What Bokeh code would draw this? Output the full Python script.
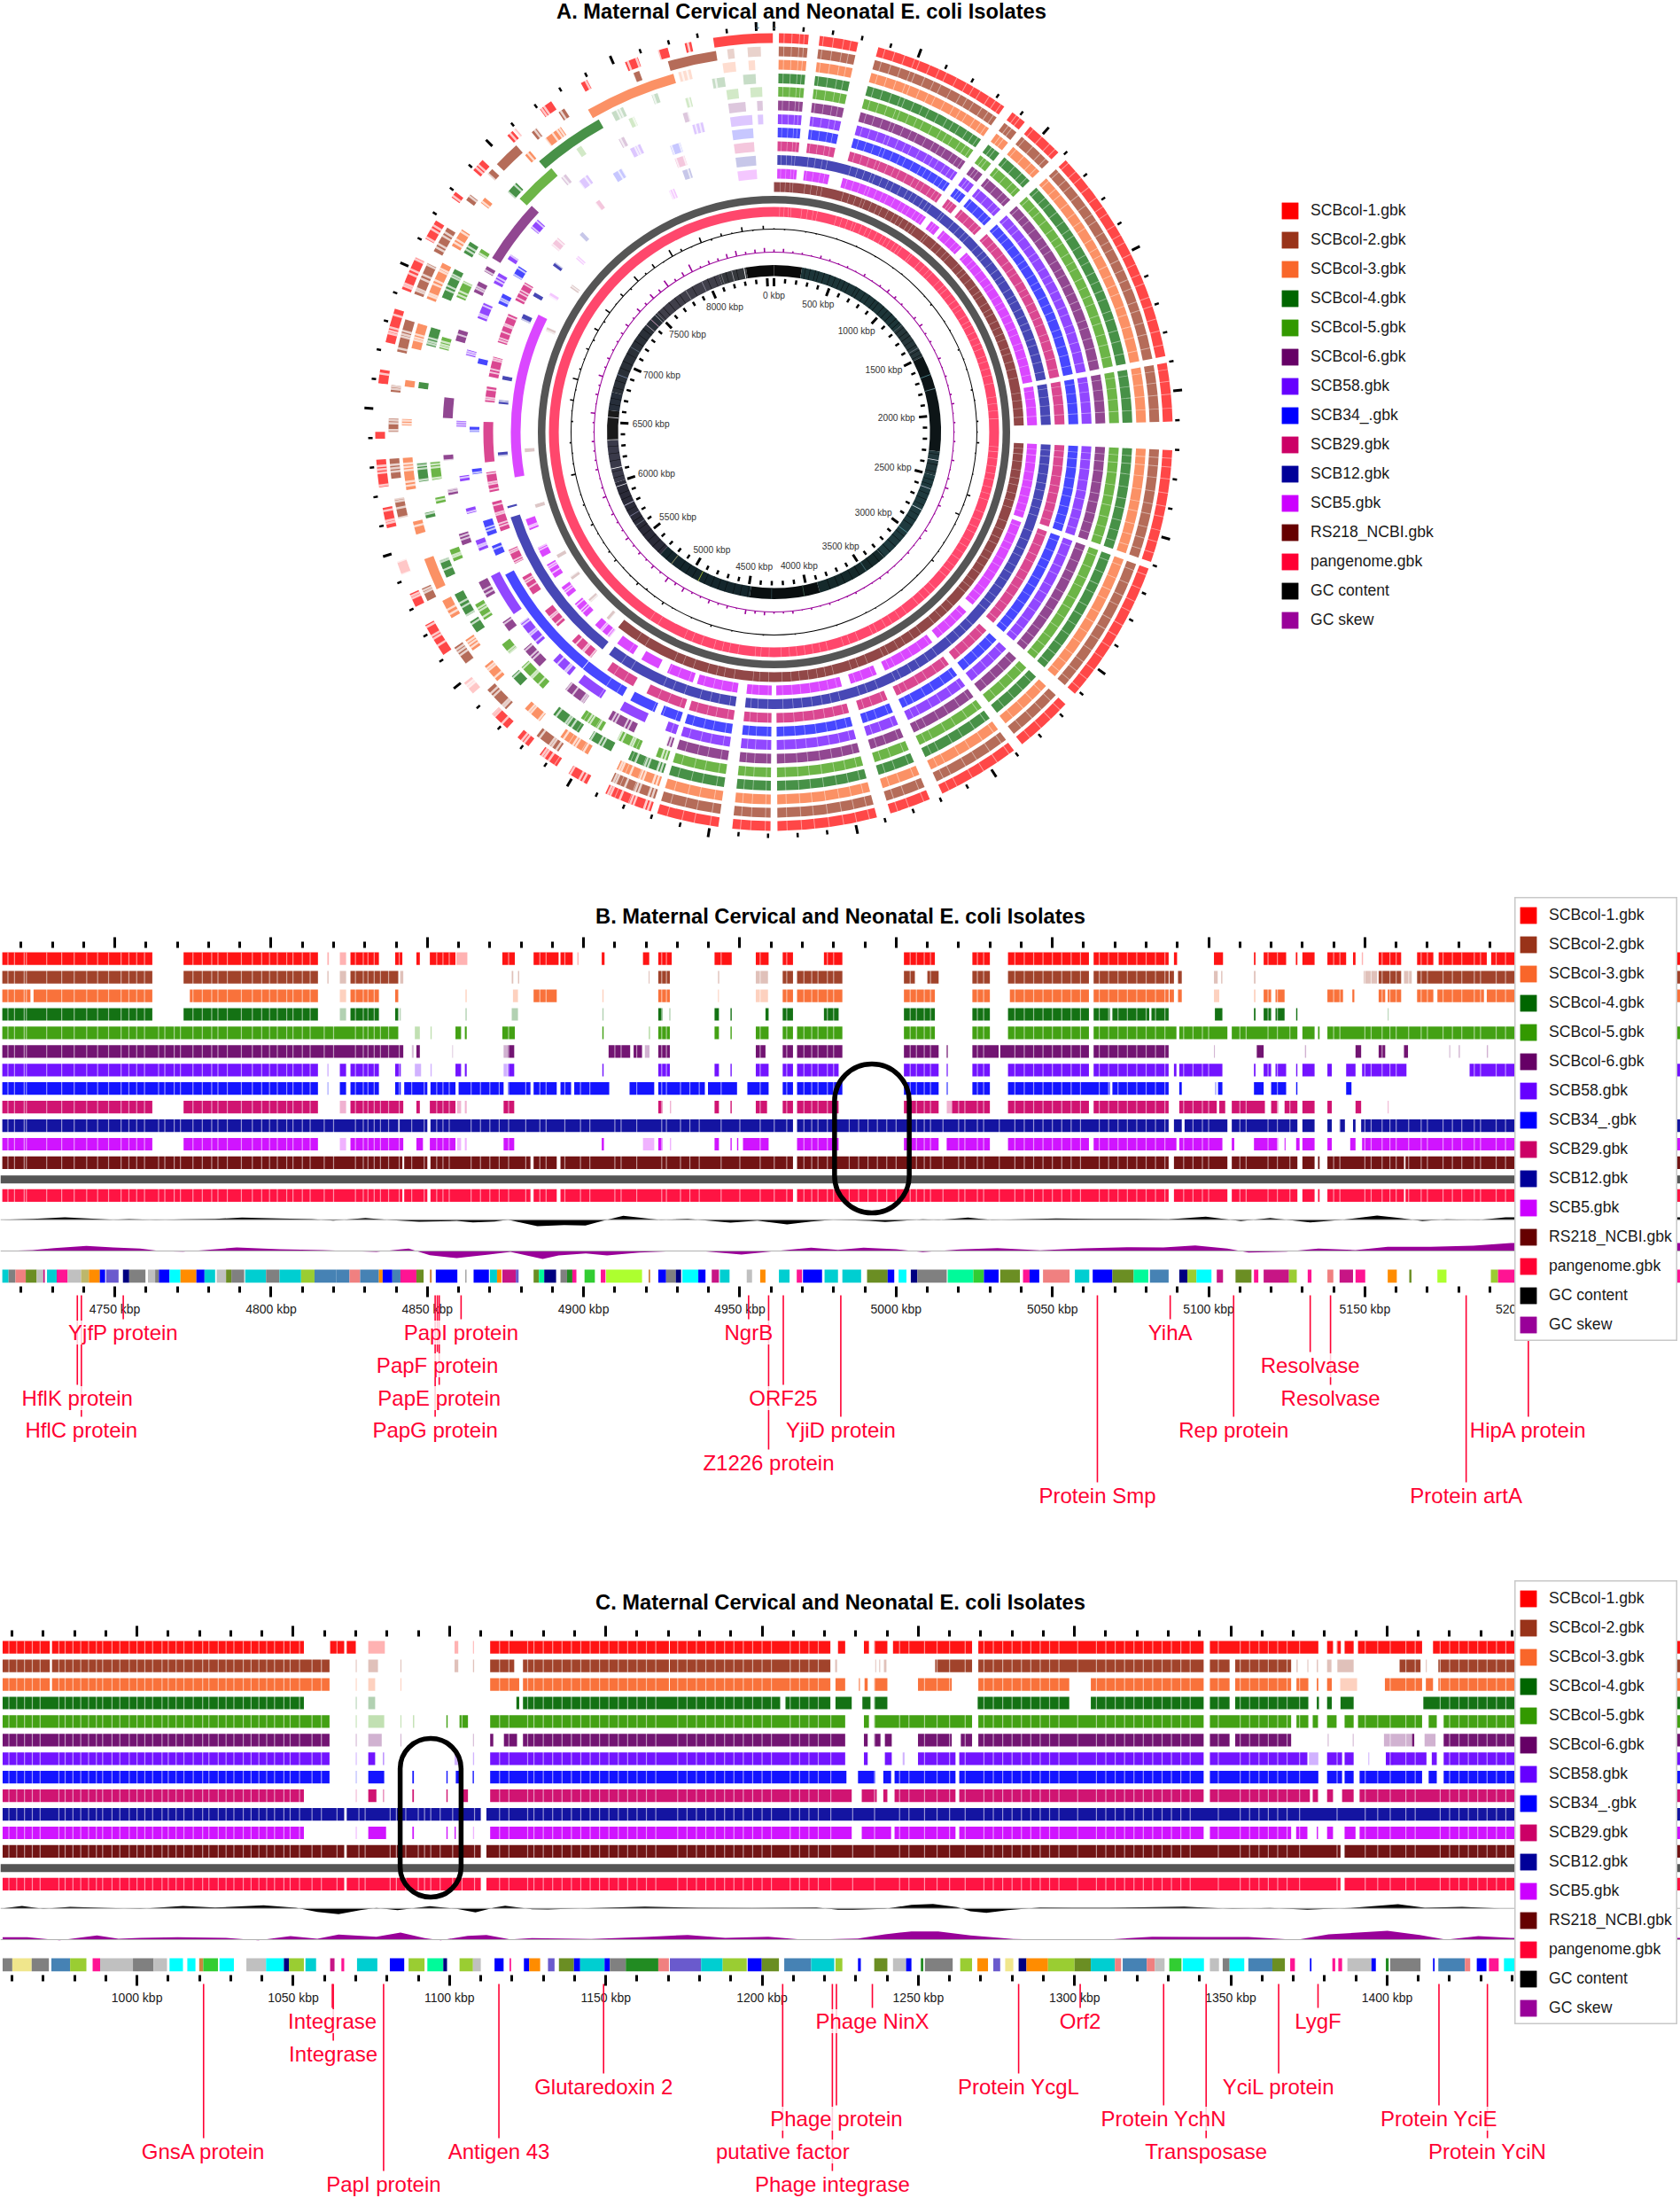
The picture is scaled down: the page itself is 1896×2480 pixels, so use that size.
import numpy as np
from bokeh.embed import file_html
from bokeh.resources import INLINE
from bokeh.layouts import column
from bokeh.plotting import figure
from bokeh.core.properties import value
from bokeh.models import (Range1d, LinearAxis, FixedTicker, PrintfTickFormatter, Legend, LegendItem,
                          Span, Title)

FONT = "Liberation Sans"
TRACK_NAMES = ["SCBcol-1.gbk", "SCBcol-2.gbk", "SCBcol-3.gbk", "SCBcol-4.gbk", "SCBcol-5.gbk", "SCBcol-6.gbk",
               "SCB58.gbk", "SCB34_.gbk", "SCB29.gbk", "SCB12.gbk", "SCB5.gbk", "RS218_NCBI.gbk", "pangenome.gbk",
               "GC content", "GC skew"]
TRACK_COLORS = ["#ff0000", "#993319", "#f9662a", "#006600", "#339900", "#660066", "#6600ff", "#0000ff", "#cc0066",
                "#000099", "#cc00ff", "#660000", "#ff0033", "#000000", "#990099"]
GENE_COLORS = dict(T="#00ced1", G="#808080", L="#c0c0c0", O="#6b8e23", P="#ff1493", R="#ff8c00", B="#0000ff",
                   N="#000080", S="#4682b4", C="#f08080", Y="#9acd32", M="#00fa9a", A="#00ffff", W="#adff2f",
                   F="#228b22", E="#32cd32", V="#c71585", D="#6a5acd", K="#f0e68c", H="#cd853f", Q="#bdb76b")
GENOME_KBP = 8560

# ---------- Panel B: kbp intervals per track ----------
b_tracks = [
 [(4714,4762),(4772,4815),(4825.4,4834.5),(4839.7,4842),(4846.5,4847.6),(4850.8,4859),(4874,4878),(4884,4892),(4892.6,4896.5),(4905.8,4906.7),(4919,4921),(4923.9,4928.2),(4941.9,4947.4),(4955.1,4959.2),(4963.7,4967),(4976.9,4982.8),(5002.5,5012.4),(5024.4,5030),(5035.8,5061.7),(5063.2,5087.2),(5088.9,5089.9),(5101.7,5104.6),(5114.5,5115),(5117.6,5124.8),(5127.9,5128.4),(5130,5133.9),(5138,5144),(5146.2,5147),(5154.4,5161.6),(5166.7,5171.9),(5173.6,5189),(5190.4,5252)],
 [(4714,4762),(4772,4815),(4825.4,4840.7),(4923.9,4927.6),(4963.7,4967),(4968.3,4982.8),(5002.5,5006),(5010,5013.6),(5024.4,5030),(5035.8,5061.7),(5063.2,5087.2),(5087.5,5088.9),(5090.2,5091.4),(5154.4,5161.6),(5166.7,5252)],
 [(4724,4762),(4714,4723),(4774,4815),(4825.4,4834.5),(4839.7,4840.7),(4884,4891.4),(4923.9,4927.6),(4963.7,4967),(4968.3,4982.8),(5002.5,5012.4),(5024.4,5030),(5036.4,5061.7),(5063.2,5087.2),(5087.5,5088.9),(5090.2,5091.4),(5117.6,5120),(5121.4,5124.3),(5138,5143),(5146,5146.6),(5154.4,5156.5),(5157.3,5161.6),(5166.7,5171.9),(5173.2,5188.1),(5189,5252)],
 [(4714,4762),(4772,4815),(4825.4,4834.5),(4839.7,4840.7),(4923.9,4925.2),(4941.9,4943.3),(4947,4947.4),(4958.2,4959.2),(4963.7,4967),(4976.9,4981.6),(5002.5,5012.4),(5024.4,5030),(5035.8,5061.7),(5063.2,5068.4),(5069.2,5081),(5081.7,5087.2),(5102,5104.4),(5114.5,5115),(5117.6,5120),(5121.4,5124.3),(5128,5128.4)],
 [(4714,4840.7),(4859,4860.8),(4862,4862.6),(4874,4878),(4906,4906.4),(4923.9,4927.6),(4941.9,4943.3),(4947,4947.4),(4955.1,4959.2),(4963.7,4967),(4968.3,4982.8),(5002.5,5012.4),(5024.4,5030),(5035.8,5061.7),(5063.2,5089.7),(5090.6,5106),(5107.4,5128.4),(5130,5133.9),(5135,5135.5),(5138,5252)],
 [(4714,4842.3),(4846.5,4847.6),(4875.8,4877.8),(4908,4914.9),(4916,4918.7),(4923.9,4927.6),(4955.1,4958.2),(4963.7,4967),(4968.3,4982.8),(5002.5,5013.6),(5016.2,5016.5),(5024.4,5032.8),(5033.3,5061.7),(5063.2,5087.2),(5115.4,5117.6),(5147,5148.8),(5154.4,5156.5),(5162.5,5163.8)],
 [(4714,4815),(4822,4824),(4825.4,4834.5),(4839.7,4841.5),(4859,4860.8),(4862,4862.6),(4875.8,4877.8),(4906,4906.4),(4923.9,4927.6),(4941.9,4943.3),(4947,4947.4),(4955.1,4959.2),(4963.7,4967),(4968.3,4981.6),(5002.5,5013.6),(5016.2,5016.5),(5024.4,5030),(5035.8,5061.7),(5063.2,5087.2),(5088.9,5089.7),(5090.6,5104.4),(5114.5,5115),(5117.6,5120),(5121.4,5124.8),(5128,5128.4),(5130,5133.9),(5138,5139.4),(5144,5147),(5149.1,5163.3),(5183.5,5252)],
 [(4714,4815),(4822,4824),(4825.4,4834.5),(4839.7,4841.5),(4842.6,4850),(4851,4859),(4860,4874.4),(4875.8,4883),(4884,4891.4),(4892.6,4896),(4897,4908.2),(4914.7,4922.6),(4923.9,4938.8),(4939.8,4949.1),(4952.4,4959.2),(4963.7,4967),(4968.3,4982.8),(5002.5,5013.6),(5016.2,5016.5),(5024.4,5030),(5035.8,5068.4),(5069.2,5087.2),(5090.6,5091.4),(5103,5104.4),(5114.5,5117.6),(5120,5124.8),(5128,5128.4),(5144,5145.7)],
 [(4714,4762),(4772,4815),(4825.4,4842.3),(4846.5,4847.6),(4850.8,4859),(4874.4,4877.8),(4923.9,4925.2),(4941.9,4943.3),(4947,4947.4),(4955.1,4958.7),(4963.7,4967),(4968.3,4981.6),(5002.5,5013.6),(5017.9,5030),(5035.8,5061.7),(5063.2,5087.2),(5090.6,5102.6),(5103.4,5105.3),(5107.4,5118),(5120,5122.2),(5124.3,5128.4),(5130,5133.9),(5138,5139.4),(5147,5148.8)],
 [(4714,4840.7),(4841,4850),(4851,4967),(4968.3,5087.2),(5088.9,5091.4),(5092.3,5106),(5107.4,5128.4),(5130,5133.9),(5138,5139.4),(5141.9,5143.6),(5146.2,5147),(5148.8,5252)],
 [(4714,4762),(4772,4815),(4825.4,4842.3),(4846.5,4848.6),(4850.8,4859),(4874.4,4877.8),(4905.8,4906.5),(4923.9,4925.2),(4941.9,4943.3),(4947,4947.4),(4949.1,4949.5),(4951,4959.2),(4968.3,4981.6),(5002.5,5013.6),(5016.2,5030),(5035.8,5061.7),(5063.2,5089.7),(5090.6,5104.4),(5107.4,5108.2),(5114.5,5122.2),(5124.3,5124.6),(5128,5129.1),(5130,5133.9),(5138,5139.4),(5145.3,5147),(5149.1,5252)],
 [(4714,4842),(4842.6,4850),(4851,4883),(4884,4891.4),(4892.6,4967),(4968.3,5087.2),(5088.9,5106),(5107.4,5128.4),(5130,5133.9),(5135,5135.5),(5138,5162.5),(5163,5252)],
 [(4714,4842),(4842.6,4850),(4851,4883),(4884,4891.4),(4892.6,4967),(4968.3,5087.2),(5088.9,5106),(5107.4,5128.4),(5130,5133.9),(5135,5135.5),(5138,5162.5),(5163,5252)],
]
b_faint = [
 [(4818,4818.5),(4822,4824),(4859.3,4862.8),(4898,4898.4),(5149,5149.4)],
 [(4818,4818.4),(4822,4824),(4841.3,4842.3),(4877,4877.5),(4879,4879.4),(4920.8,4921.1),(4943,4943.4),(4955.1,4959),(5101.7,5102.9),(5104,5104.4),(5114.5,5115),(5149.6,5153.9),(5162.5,5165)],
 [(4822,4824),(4862.2,4862.6),(4877.4,4879),(4906,4906.4),(4943,4943.3),(4955.1,4959),(5101.7,5103.4),(5114.5,5115),(5146,5146.6)],
 [(4822,4824),(4841,4841.5),(4862.2,4862.6),(4877,4879),(4906,4906.4),(4927.4,4927.8),(5157.3,5157.6)],
 [(4846,4847.6),(4851,4851.4),(4920.8,4921.3)],
 [(4845,4845.6),(4858,4858.2),(4874.4,4875.8),(4919.6,4921.1),(5016.2,5016.5),(5101.7,5102),(5130.8,5131.2),(5177,5177.3),(5180,5180.4),(5189,5189.4)],
 [(4818,4818.4),(4846,4848),(4851,4851.4),(4874.4,4875.6),(5016.2,5016.5)],
 [(4818,4818.4),(5102,5102.5)],
 [(4822,4824),(4859.5,4860.8),(4862,4862.6),(4927.6,4928),(5016.2,5017.9),(5157.3,5157.6)],
 [],
 [(4822,4824),(4859.5,4860.8),(4862,4862.6),(4919,4922.6),(4927.6,4928),(5016.2,5017)],
 [], [],
]
b_stripes = [4715.8,4717.9,4721,4721.7,4728.2,4733,4737,4741,4744.5,4748,4752,4754.5,4757,4759.5,4764,4766,4769,4771,4775,4778,4781,4783,4786,4790.5,4794,4797,4799.5,4802,4805,4807,4810,4812.5,4817,4820,4827,4829.5,4831,4833,4835,4837.6,4841,4845,4849,4853,4855,4857,4864,4867,4870,4873,4876,4881.5,4886,4888,4894,4899,4902,4910,4912,4917,4925,4926.5,4931,4934,4937,4944,4950,4956.5,4961,4965,4970.5,4973,4975,4978,4980,4985,4988,4991,4994,4997,5000,5004.5,5006.5,5009,5011,5015,5020,5022,5026,5028,5033,5038,5041,5044,5047,5050,5053,5056,5059,5065,5068,5071,5074,5077,5080,5083,5086,5092,5095,5098,5100,5110,5112,5119,5122,5126,5136,5140,5142,5150,5152,5155.5,5158,5160,5164,5168,5170,5175,5178,5181,5185,5187,5192,5195]
b_genes = [(4714,4716,"T"),(4716,4718.2,"G"),(4718.2,4721.5,"C"),(4721.5,4725,"O"),(4725,4727.1,"L"),(4727.1,4727.6,"V"),(4728.3,4731.4,"T"),(4731.4,4734.9,"P"),(4734.9,4739.2,"L"),(4739.2,4741.7,"Q"),(4741.7,4745.2,"R"),(4745.2,4746.9,"B"),(4747.2,4751.2,"D"),(4752.6,4754.6,"N"),(4754.6,4759.8,"G"),(4760.6,4762.9,"L"),(4762.9,4764.1,"G"),(4764.1,4767.5,"B"),(4767.5,4771,"A"),(4771,4776.1,"R"),(4776.1,4778.7,"B"),(4778.7,4782.1,"T"),(4782.6,4785.6,"L"),(4785.6,4787.3,"O"),(4787.3,4791.4,"G"),(4791.7,4798.4,"T"),(4798.4,4802.7,"G"),(4802.7,4809.6,"T"),(4809.6,4813.9,"Y"),(4813.9,4820.8,"S"),(4820.8,4825.1,"S"),(4825.1,4828.5,"C"),(4828.5,4834.5,"S"),(4834.5,4835.7,"R"),(4835.7,4838.8,"B"),(4838.8,4841.4,"S"),(4841.4,4846.5,"P"),(4846.5,4848.8,"O"),(4850.8,4851.4,"H"),(4852.7,4859.6,"B"),(4862.2,4862.5,"G"),(4864.8,4869.7,"B"),(4870,4872.3,"T"),(4872.3,4873.7,"R"),(4874,4878.3,"V"),(4878.3,4879.2,"D"),(4884,4885.7,"O"),(4885.7,4887.4,"M"),(4887.4,4891.2,"N"),(4892.6,4894.7,"G"),(4894.7,4896.4,"F"),(4896.4,4897.7,"P"),(4900.3,4903.6,"E"),(4905.5,4907,"P"),(4907.2,4918.7,"W"),(4920.8,4921.3,"H"),(4923.9,4926.4,"B"),(4926.4,4929.5,"G"),(4929.5,4931.2,"N"),(4931.6,4936.7,"A"),(4936.7,4939,"B"),(4941,4943.3,"V"),(4943.6,4946.7,"T"),(4952.2,4953.9,"L"),(4956.5,4958.2,"R"),(4962.5,4965.9,"T"),(4968.2,4969.9,"P"),(4970.2,4976.3,"B"),(4977.1,4981.4,"T"),(4982.8,4988.8,"T"),(4990.7,4997.3,"O"),(4997.3,4999.4,"B"),(5000.8,5003.3,"A"),(5004.7,5006.8,"N"),(5006.8,5016.2,"G"),(5016.5,5024.7,"M"),(5024.7,5028.1,"E"),(5028.1,5032.8,"B"),(5033.3,5039.6,"O"),(5040.6,5042.7,"P"),(5042.7,5045.8,"B"),(5047,5055.5,"C"),(5057.2,5061.8,"T"),(5062.9,5069.2,"B"),(5069.2,5076,"O"),(5076,5080.7,"M"),(5081.2,5087.2,"S"),(5090.6,5093.2,"N"),(5093.2,5096.1,"Y"),(5096.1,5100.9,"A"),(5102.6,5104.6,"V"),(5108.6,5113.7,"O"),(5114.5,5115.9,"P"),(5117.6,5125.7,"V"),(5125.7,5128.2,"Y"),(5131.7,5132.9,"P"),(5138,5139.9,"C"),(5141.9,5146.2,"V"),(5147,5150.1,"P"),(5157.3,5160.2,"R"),(5164.2,5164.9,"O"),(5173.2,5176.1,"W"),(5190.3,5192.6,"Y"),(5192.6,5252,"P")]
b_gc = [(4714,0),(4723.7,3),(4734,8),(4744.3,3),(4749.5,0),(4754.6,2),(4763.2,-1),(4771.8,1),(4782.1,3),(4790.7,7),(4802.7,4),(4813,2),(4819.9,-3),(4830.2,6),(4838.8,-2),(4847.4,-7),(4859.4,-4),(4864.6,-9),(4871.5,-6),(4875.8,0),(4885.2,-22),(4893.8,-18),(4900.6,-20),(4905.8,-5),(4912.7,13),(4919.6,5),(4924.7,-1),(4933.3,3),(4947,-10),(4955.6,-3),(4965.1,-16),(4972.8,-6),(4979.8,0),(4991.4,-4),(4996.5,-8),(5001.6,-4),(5008.5,1),(5013.6,-1),(5023,7),(5030.7,-1),(5051.2,4),(5063.2,3),(5076.9,3),(5087.2,1),(5099.1,10),(5110.3,-5),(5119.7,6),(5132.5,-9),(5142.9,0),(5153.9,14),(5161.7,5),(5168.4,-5),(5176.1,1),(5186.4,-1),(5195,8),(5252,8)]
b_skew = [(4714,0),(4723.7,3),(4730.6,10),(4740.9,17),(4749.5,12),(4758.1,8),(4764.9,-1),(4771.8,-2),(4778.7,3),(4789,12),(4802.7,6),(4816.5,3),(4826.8,-1),(4833.7,-3),(4844,8),(4850.8,-14),(4859.4,-24),(4869.7,-12),(4876.6,-3),(4886.9,-27),(4892,-15),(4900.7,-8),(4907.5,-15),(4917.8,-5),(4928.2,-1),(4936.7,1),(4950.5,-12),(4960.8,-1),(4972.8,11),(4981.4,4),(4989.6,11),(5000,6),(5008.5,-4),(5020.4,5),(5032.4,10),(5046.1,2),(5059.8,9),(5075.2,13),(5085.5,12),(5095.7,19),(5106,8),(5112.8,-5),(5124.8,-2),(5135.1,8),(5147,3),(5157.3,14),(5171,14),(5184.7,18),(5196.7,27),(5252,27)]
b_major = [4750, 4800, 4850, 4900, 4950, 5000, 5050, 5100, 5150, 5200]
b_minor = [4720,4730,4740,4760,4770,4780,4790,4810,4820,4830,4840,4860,4870,4880,4890,4910,4920,4930,4940,4960,4970,4980,4990,5010,5020,5030,5040,5060,5070,5080,5090,5110,5120,5130,5140,5160,5170,5180,5190]
b_ann_labels = ["YjfP protein","HflK protein","HflC protein","PapI protein","PapF protein","PapE protein","PapG protein","NgrB","ORF25","Z1226 protein","YjiD protein","Protein Smp","YihA","Rep protein","Resolvase","Resolvase","Protein artA","HipA protein"]
b_ann_kbp = [4752.7,4738,4739.3,4860.8,4853.2,4853.8,4852.5,4952.8,4963.9,4959.2,4982.3,5064.4,5087.7,5108,5132.5,5139,5182.4,5202.3]
b_ann_rows = [1,3,4,1,2,3,4,1,3,5,4,6,1,4,2,3,6,4]

# ---------- Panel C ----------
c_tracks = [
 [(957,972.1),(972.8,1053.4),(1061.8,1066.3),(1067.1,1070),(1113,1170.2),(1170.5,1221.9),(1224.3,1226.6),(1232.6,1234.2),(1235.9,1240.1),(1241.9,1267.2),(1269.2,1341.3),(1343.3,1378),(1380.8,1382.7),(1383.9,1385.2),(1386.4,1389.3),(1390.7,1411.2),(1414.7,1494)],
 [(957,972.1),(972.8,1061.6),(1113,1120.7),(1123.5,1170.2),(1170.5,1221.9),(1255.4,1267.2),(1269.2,1341.3),(1343.3,1349.6),(1351.4,1369.3),(1404,1410.7),(1416.4,1494)],
 [(957,972.1),(972.8,1061.6),(1113,1122.3),(1123.5,1170.2),(1170.5,1221.9),(1223.5,1226.6),(1231,1231.3),(1232.8,1233.8),(1235.9,1240.1),(1249.9,1260.7),(1269.2,1298.3),(1305.2,1341.3),(1343.3,1349.6),(1351.4,1369.3),(1371,1374.8),(1377.5,1378),(1380.8,1382.3),(1399.3,1411.2),(1412.4,1414.7),(1416.4,1494)],
 [(957,1053.4),(1121.4,1122.3),(1123.5,1205.8),(1207.5,1221.9),(1223.5,1228.7),(1232.1,1234.7),(1235.9,1240.1),(1269,1298.3),(1305.2,1341.3),(1343.3,1349.6),(1351.4,1374.8),(1377.5,1378.2),(1380.8,1382.3),(1385.1,1389.3),(1411.6,1494)],
 [(957,1061.6),(1099,1099.4),(1103.2,1105.9),(1113,1226.6),(1232.6,1234.2),(1235.9,1267.2),(1269.2,1341.3),(1343.3,1369.3),(1371,1374.8),(1376.2,1377.9),(1380.8,1383.9),(1386.4,1389.3),(1390.7,1411.2),(1413.3,1415.9),(1418.1,1494)],
 [(957,1061.6),(1113,1114),(1117.4,1121.6),(1123.5,1226.6),(1232.6,1233.8),(1235.9,1237.9),(1239.3,1241.5),(1249.9,1260.7),(1263.6,1267.2),(1269.2,1341.3),(1343.3,1349.6),(1351.4,1369.3),(1408,1408.7),(1418.1,1494)],
 [(957,1061.6),(1074,1076.2),(1078.8,1079),(1113,1226.6),(1232.6,1233.8),(1239.3,1241.5),(1249.9,1261.9),(1263.1,1341.3),(1343.3,1374.5),(1380.8,1385.6),(1386.4,1389.3),(1399.6,1412.6),(1414.3,1415.9),(1418.1,1494)],
 [(957,1061.6),(1074,1079.1),(1088.1,1088.6),(1099,1099.4),(1102,1103.7),(1107.4,1107.8),(1113,1227),(1230.7,1236.2),(1238.8,1241.3),(1242.4,1261.9),(1263.1,1341.3),(1343.3,1378),(1380.8,1385.6),(1386.4,1389.3),(1391.2,1411.2),(1413.3,1415.9),(1418.1,1494)],
 [(957,1053.4),(1074,1076.6),(1078.8,1079),(1088.1,1088.6),(1099,1099.4),(1104.4,1105.9),(1113,1228.7),(1231.9,1236.7),(1238.8,1240.1),(1242.4,1261.9),(1263.1,1341.3),(1343.3,1375.3),(1376.2,1377.9),(1380.8,1382.7),(1385.6,1389.3),(1391.2,1494)],
 [(957,1066.3),(1067.1,1110),(1111.8,1494)],
 [(957,1053.4),(1074,1079.7),(1088.1,1088.6),(1099,1099.4),(1101.6,1102),(1113,1228.7),(1231.9,1241.3),(1242.4,1261.9),(1263.1,1341.3),(1343.3,1369.3),(1370.9,1374.5),(1377.5,1377.9),(1380.8,1382.7),(1386.4,1389.9),(1391.2,1494)],
 [(957,1066.3),(1067.1,1110),(1111.8,1385.1),(1386.4,1494)],
 [(957,1066.3),(1067.1,1110),(1111.8,1385.1),(1386.4,1494)],
]
c_faint = [
 [(1074,1079.3),(1101.6,1102.8),(1107.5,1107.8)],
 [(1070,1070.3),(1074,1077.1),(1084.3,1084.6),(1101.6,1102.8),(1107.5,1107.9),(1223.4,1224),(1236.2,1236.5),(1237.5,1237.8),(1239,1239.8),(1371,1371.4),(1374.5,1374.8),(1377.5,1377.9),(1380.8,1382.2),(1384,1389.3),(1412.4,1412.7)],
 [(1070,1070.3),(1074,1076.2),(1084.3,1084.6),(1385,1390.4)],
 [(1070,1070.3),(1074,1076.2)],
 [(1070,1070.3),(1074,1079.1),(1084.3,1084.6),(1088.3,1088.7)],
 [(1070,1070.3),(1074,1078.3),(1084.3,1084.6),(1107.5,1107.8),(1381,1381.3),(1389,1389.3),(1399,1408),(1412,1415.5)],
 [(1070,1070.3),(1101.6,1102.8),(1107.5,1107.9),(1245,1245.6),(1375,1378),(1394,1394.3),(1399.6,1402)],
 [(1070,1070.3)],
 [(1070,1070.3)],
 [],
 [(1070,1070.3),(1107.5,1107.9)],
 [], [],
]
c_stripes = [959,961.5,964,966.5,969,975,977,979.5,982,984.5,987,989,992,994.5,997.5,1000,1002.5,1005,1008,1010,1012.5,1015,1018,1021,1023,1026,1028.5,1031,1034,1036.5,1039,1041.5,1044,1047,1049,1052,1056,1059,1064,1071,1073,1081,1083,1086,1090,1092,1094,1097,1101,1104,1108,1116,1119,1125,1127,1130,1133,1136,1139,1142,1145,1148,1151,1154,1157,1160,1163,1166,1173,1176,1179,1182,1185,1188,1191,1194,1197,1200,1203,1209,1212,1215,1218,1222,1229,1236,1244,1247,1252,1256,1260,1265,1271,1274,1277,1280,1283,1286,1289,1292,1295,1301,1307,1310,1313,1316,1319,1322,1325,1328,1331,1334,1337,1346,1353,1356,1359,1362,1365,1368,1372,1384,1393,1397,1401,1406,1409,1417,1420,1423,1426,1429,1432,1435,1438]
c_genes = [(957,960.1,"G"),(960.1,966.3,"K"),(966.3,971.8,"G"),(972.6,978.6,"S"),(978.6,983.8,"Y"),(985.8,988.2,"P"),(988.2,998.7,"L"),(998.7,1005.3,"G"),(1005.3,1009.6,"L"),(1010.4,1014.7,"A"),(1016.1,1018.7,"A"),(1019.9,1021.2,"H"),(1021.2,1025.9,"E"),(1026.4,1031,"A"),(1035,1041.3,"L"),(1041.3,1047,"A"),(1047,1048.6,"N"),(1048.6,1053.4,"Y"),(1053.9,1057.3,"T"),(1061.8,1063.2,"V"),(1065.4,1066.3,"P"),(1070.4,1076.9,"T"),(1080.9,1085.5,"B"),(1086.9,1092,"Y"),(1092.9,1098,"M"),(1098,1099.2,"N"),(1103.2,1107.5,"Y"),(1107.5,1110,"L"),(1114.4,1117.3,"B"),(1119.2,1119.7,"P"),(1123.8,1125.5,"B"),(1125.5,1129,"R"),(1131.5,1133.6,"D"),(1135,1139.8,"O"),(1139.8,1141.8,"B"),(1141.8,1149.6,"T"),(1149.6,1151.3,"B"),(1151.3,1156.4,"G"),(1156.4,1166.8,"F"),(1166.8,1170.2,"C"),(1170.5,1180.5,"D"),(1180.5,1187.4,"T"),(1187.4,1195.1,"Y"),(1195.4,1199.9,"B"),(1199.9,1205.4,"O"),(1207.1,1215.7,"S"),(1215.7,1223.1,"T"),(1223.5,1225.7,"Y"),(1230.7,1231.6,"B"),(1235.9,1240.1,"O"),(1241.9,1246.1,"L"),(1246.1,1247.8,"B"),(1250.8,1251.6,"F"),(1252.1,1261,"G"),(1263.4,1267.2,"Y"),(1268.9,1272.3,"R"),(1274,1276.2,"D"),(1277.8,1280.4,"K"),(1282.1,1284.6,"N"),(1284.6,1291.5,"R"),(1291.5,1300,"Y"),(1300,1305.2,"O"),(1305.2,1312.9,"T"),(1312.9,1314.9,"C"),(1315.4,1323.1,"S"),(1323.1,1325.7,"C"),(1325.7,1328.8,"L"),(1330.3,1334.2,"E"),(1334.6,1341.4,"A"),(1343.3,1346.2,"L"),(1347.4,1349.6,"G"),(1349.6,1354.3,"A"),(1355.6,1363.3,"S"),(1363.3,1367.3,"O"),(1369,1370.5,"P"),(1375.3,1375.8,"B"),(1382.5,1383.4,"P"),(1384.4,1385.6,"P"),(1387.3,1395,"L"),(1395,1396.4,"B"),(1399.6,1400.5,"F"),(1401,1410.7,"G"),(1414.7,1415.2,"B"),(1416.4,1424.9,"S"),(1424.9,1426.6,"C"),(1428.7,1431.8,"B"),(1432.6,1435.7,"P"),(1437.4,1440.8,"A")]
c_gc = [(957,0),(963.2,8),(970,-2),(978.6,5),(990.7,1),(1001,-2),(1014.7,8),(1025,3),(1040.5,10),(1050.8,2),(1057.7,-12),(1064.5,-20),(1071.4,-6),(1076.6,1),(1083.4,-6),(1093.7,7),(1102.3,-2),(1108.3,-14),(1114.4,3),(1117.8,9),(1126.4,-3),(1131.5,-4),(1141.8,0),(1162.5,6),(1179.6,2),(1196.8,1),(1217.4,3),(1224.3,-5),(1229,-5),(1239.3,-2),(1247.8,12),(1254.7,15),(1262.4,4),(1266.7,-10),(1271.8,-15),(1278.6,-6),(1288.9,3),(1299.2,2),(1311.2,2),(1335.1,6),(1350.5,-2),(1362.5,1),(1374.5,-5),(1388.1,1),(1403.5,14),(1412.1,2),(1424,5),(1436,0),(1494,0)]
c_skew = [(957,8),(964.9,8),(975.2,-2),(987.2,14),(994.1,3),(1001,6),(1013,8),(1028.5,6),(1038.8,-2),(1049.1,12),(1057.7,3),(1064.5,17),(1076.6,10),(1084.3,24),(1092,5),(1097.2,-2),(1105.8,13),(1111.8,16),(1119.5,1),(1126.4,5),(1145.3,2),(1162.5,9),(1176.2,16),(1188.2,6),(1202,10),(1214,-1),(1224.3,2),(1230.7,4),(1239.3,18),(1247.8,28),(1256.4,28),(1266.7,14),(1280.4,2),(1294,-1),(1311.2,1),(1324.8,10),(1341.9,9),(1355.6,9),(1371,-1),(1381.3,18),(1400.1,30),(1410.4,16),(1418.9,0),(1429.2,12),(1439.5,6),(1494,6)]
c_major = [1000,1050,1100,1150,1200,1250,1300,1350,1400,1450]
c_minor = [960,970,980,990,1010,1020,1030,1040,1060,1070,1080,1090,1110,1120,1130,1140,1160,1170,1180,1190,1210,1220,1230,1240,1260,1270,1280,1290,1310,1320,1330,1340,1360,1370,1380,1390,1410,1420,1430,1440]
c_ann_labels = ["GnsA protein","Integrase","Integrase","PapI protein","Antigen 43","Glutaredoxin 2","putative factor","Phage integrase","Phage protein","Phage NinX","Orf2","Protein YcgL","Protein YchN","Transposase","YciL protein","LygF","Protein YciE","Protein YciN"]
c_ann_kbp = [1021.3,1062.5,1062.8,1078.9,1115.8,1149.3,1206.6,1222.5,1223.8,1235.3,1301.8,1282.1,1328.5,1342.1,1365.3,1377.9,1416.6,1432.1]
c_ann_rows = [5,1,2,6,5,3,5,6,4,1,1,3,4,5,3,1,4,5]

# ---------- Panel A: kbp arcs on the ring ----------
a_core = [(17,119),(157,290),(361,839),(873,927),(951,1082),(1118,1879),(1902,2104),(2202,2592),(2616,3115),(3163,3365),(3400,3686),(3733,3876),(3924,4268),(4292,4423),(4471,4685)]
a_rings = [
 a_core + [(4708,4875),(4946,5018),(5065,5136),(5184,5232),(5279,5350),(5612,5731),(5802,5850),(6088,6159),(6230,6325),(6397,6421),(6587,6635),(6730,6849),(6920,7039),(7110,7182),(7277,7300),(7396,7443),(7562,7586),(7705,7752),(7871,7895),(8038,8085),(8157,8192),(8252,8275),(8351,8556)],
 a_core + [(4708,4875),(5089,5184),(5327,5422),(5541,5612),(5802,5850),(6111,6183),(6254,6325),(6421,6468),(6563,6587),(6706,6825),(6920,7039),(7086,7182),(7300,7324),(7419,7443),(7467,7562),(7634,7657),(7752,7776),(8050,8073),(8180,8354)],
 a_core + [(4708,4875),(4994,5113),(5208,5279),(5422,5493),(5565,5612),(5707,5779),(5826,5945),(6040,6088),(6207,6325),(6444,6468),(6587,6611),(6730,6825),(6920,7063),(7134,7205),(7324,7348),(7562,7586),(7657,7729),(7847,8187)],
 a_core + [(4708,4851),(4923,5018),(5065,5184),(5350,5398),(5612,5660),(5684,5779),(5850,5921),(6088,6111),(6230,6302),(6587,6611),(6754,6825),(6944,7063),(7134,7182),(7419,7467),(7586,7864)],
 a_core + [(4708,4756),(4827,4923),(4994,5089),(5279,5398),(5469,5517),(5636,5707),(5897,5945),(6135,6159),(6230,6302),(6754,6801),(6968,7039),(7158,7182),(7431,7605)],
 a_core + [(4708,4732),(4875,4994),(5113,5208),(5350,5446),(5541,5588),(5707,5779),(5945,5993),(6159,6183),(6302,6325),(6478,6563),(6801,6849),(7015,7063),(7110,7134),(7174,7443)],
 a_core + [(4708,4756),(4851,4970),(5065,5184),(5232,5327),(5422,5541),(5588,5779),(5897,5945),(6064,6088),(6207,6230),(6444,6468),(6754,6778),(6920,6992),(7086,7134),(7205,7229),(7372,7419)],
 a_core + [(4708,4800),(4830,4950),(4990,5205),(5208,5755),(5850,5897),(5945,6016),(6230,6254),(6421,6444),(6730,6754),(7015,7063),(7158,7205)],
 a_core + [(4708,4899),(4970,5113),(5208,5327),(5422,5517),(5612,5707),(5779,5850),(5945,6088),(6135,6230),(6278,6468),(6563,6635),(6682,6778),(6849,6992),(7063,7158)],
 [(17,1879),(1902,2104),(2202,4423),(4471,5150),(5190,5993),(6040,6050),(6300,6320),(6560,6580),(6680,6700),(6990,7020),(7120,7140),(7300,7320)],
 a_core + [(4708,4850),(4900,5000),(5050,5150),(5200,5300),(5360,5450),(5500,5560),(5620,5700),(5745,5800),(5900,5960),(6183,7050)],
 [(0,2104),(2202,5198)],
]
a_solid = [
 [(8351,8556)],
 [(7467,7562),(8180,8354)],
 [(5826,5945),(7847,8187)],
 [(7586,7864)],
 [(7431,7605)],
 [(6478,6563),(7174,7443)],
 [(4700,5200),(5588,5779)],
 [(4700,5755)],
 [(4700,5200),(6278,6468)],
 [(4700,5993)],
 [(4700,5200),(6183,7050)],
 [(4700,5198)],
]
a_faint = [
 [(5446,5493),(5921,5969),(7590,7600)],
 [(8394,8418),(8466,8513)],
 [(8204,8252),(8371,8418),(8466,8490)],
 [(7919,7967),(8085,8109),(8323,8371),(8442,8490)],
 [(7729,7752),(7967,7991),(8204,8228),(8371,8418),(8466,8513)],
 [(7610,7634),(7895,7919),(8180,8204),(8371,8442),(8490,8513)],
 [(7657,7705),(7919,7967),(8204,8252),(8371,8466),(8490,8513)],
 [(7800,7847),(8085,8133),(8371,8466)],
 [(7372,7419),(7657,7681),(8085,8133),(8371,8466)],
 [(7500,7520),(8100,8140),(8370,8470)],
 [(7160,7180),(7400,7420),(8000,8030),(8370,8470)],
 [(5260,5280),(5400,5420),(5560,5580),(5700,5720),(6000,6020),(6310,6330),(6990,7010),(7260,7280)],
]
a_stripes = [35,62,88,104,170,205,240,265,385,420,456,492,510,548,583,611,650,688,715,742,777,803,825,890,905,965,1003,1040,1066,1132,1170,1198,1240,1284,1322,1350,1398,1436,1465,1510,1548,1586,1620,1670,1702,1748,1790,1840,1925,1966,2010,2058,2230,2260,2301,2350,2395,2432,2480,2520,2560,2640,2690,2738,2775,2830,2871,2915,2960,3010,3050,3090,3190,3235,3280,3330,3420,3470,3525,3570,3630,3660,3755,3810,3850,3950,3995,4040,4090,4140,4185,4235,4310,4360,4395,4500,4555,4598,4650,4730,4790,4840,5020,5075]
a_stripes_acc = [4719,4733,4771,4783,4822,4857,4866,4903,4919,4962,4976,5012,5047,5058,5099,5118,5127,5171,5203,5214,5252,5261,5303,5338,5346,5391,5405,5438,5472,5481,5527,5539,5578,5591,5602,5649,5677,5688,5723,5741,5784,5796,5833,5842,5881,5913,5921,5968,5982,6024,6033,6071,6104,6113,6148,6172,6181,6222,6236,6279,6291,6303,6344,6381,6392,6427,6451,6462,6506,6519,6552,6574,6583,6621,6658,6667,6703,6719,6762,6771,6783,6828,6859,6871,6902,6933,6941,6979,6994,7032,7041,7077,7102,7116,7149,7163,7196,7225,7234,7271,7284,7318,7331,7366,7378,7409,7421,7457,7482,7493,7531,7548,7574,7591,7619,7647,7658,7691,7711,7722,7761,7783,7794,7828,7847,7889,7903,7941,7952,7986,8005,8019,8048,8079,8091,8128,8147,8158,8202,8219,8238,8263,8291,8302,8337]
a_gene_bands = [(0,230,"#0a0a0a"),(230,1190,"#1c3538"),(1190,1500,"#26363a"),(1500,2300,"#0d1517"),(2300,2500,"#22383c"),(2500,3300,"#1e3a3e"),(3300,3900,"#15292b"),(3900,4480,"#0a0f10"),(4480,5300,"#14262c"),(5300,6000,"#2a2a38"),(6000,6350,"#3a3a4a"),(6350,6600,"#1a1a1a"),(6600,6750,"#262e3a"),(6750,7500,"#2a3038"),(7500,8100,"#403f4a"),(8100,8330,"#35383c"),(8330,8560,"#0a0a0a")]
a_gene_streaks = [(8313,"#ffffff"),(2373,"#e8e8f0"),(6116,"#ffffff"),(5964,"#e8e8f0"),(2801,"#c8d8e0"),(2615,"#b0b8c8"),(5181,"#9a9a70"),(4922,"#a8c030"),(7429,"#d0a0c0"),(7372,"#c0b0c0"),(7480,"#a0a0a8"),(5798,"#b8b8d0"),(6542,"#c8c8d0"),(6356,"#d8d8e0"),(1420,"#707880"),(1660,"#508890"),(1780,"#608088"),(3020,"#509098"),(3480,"#406870"),(5610,"#606878"),(5700,"#8080a0"),(7800,"#8a8a90"),(7950,"#9090a0"),(8120,"#787880"),(8210,"#a0a0a8"),(4030,"#406050"),(4300,"#304a50"),(6900,"#7080a0"),(7150,"#607080")]
a_gene_dark = [260,300,345,372,420,470,515,560,600,640,705,735,790,835,890,925,980,1025,1070,1120,1160,1215,1260,1300,1345,1390,1440,1480,2325,2410,2470,2540,2580,2660,2710,2760,2850,2900,2950,3060,3110,3170,3230,3290,3350,3420,3545,3610,3680,3740,3810,4500,4560,4620,4690,4750,4810,4870,4980,5040,5100,5240,5330,5390,5450,5510,5570,5650,5750,5850,5900,6040,6090,6180,6240,6300,6650,6700,6790,6850,6960,7020,7090,7210,7270,7330,7520,7570,7630,7690,7740,7860,8000,8060,8160,8250]
a_major = [0,500,1000,1500,2000,2500,3000,3500,4000,4500,5000,5500,6000,6500,7000,7500,8000,8500]
a_minor = [k for k in range(0, 8560, 100) if k % 500]
a_label_kbp = [0,500,1000,1500,2000,2500,3000,3500,4000,4500,5000,5500,6000,6500,7000,7500,8000]
a_gc = [1,-1,0,-1,-1,0,1,0,1,0,-1,0,-1,1,0,0,-1,-2,0,1, 1,0,-2,1,-1,0,-2,1,0,2,1,3,-1,0,1,0,4,1,-5,1, 0,-1,1,3,0,-1,0,1,0,0,1,-1,0,0,1,0,0,0,1,0, 0,1,0,0,1,0,2,0,1,0,1,3,1,-2,3,1,-1,3,2,1, 1,3,-1,2,1,0,5,1,-1,2,0,-2,1,4,-1,6,2,1,3,-2, 5,-2,6,1,4,-2,7,2,5,-1,8,3,-1,6,-2,3,1,5,-1,4]
a_skew = [3,4,2,2,1,3,2,1,2,1,3,1,2,4,3,2,1,3,4,2, 2,1,3,1,2,1,2,3,1,2,1,2,1,3,1,2,4,2,3,1, 1,3,2,1,2,1,1,2,2,1,1,2,1,1,2,1,2,1,3,2, 2,4,3,5,1,3,2,4,2,2,5,3,6,2,4,2,3,2,4,2, 2,3,1,4,2,1,3,2,2,3,1,2,5,1,3,2,5,2,3,2, 2,3,4,2,5,3,6,4,8,3,5,9,2,4,3,5,6,3,4,5]

TITLE_A = "A. Maternal Cervical and Neonatal E. coli Isolates"
TITLE_B = "B. Maternal Cervical and Neonatal E. coli Isolates"
TITLE_C = "C. Maternal Cervical and Neonatal E. coli Isolates"

# ---------- layout constants ----------
W = 1896
PX_PER_KBP = 3.527
CX, CY = 873.0, 487.0
RING_OUT = [450, 435, 420, 404.5, 389.5, 374, 358.5, 343.5, 328, 312.5, 297, 282]
RING_T = 11


def make_legend(p, loc, off):
    items = []
    for name, col in zip(TRACK_NAMES, TRACK_COLORS):
        r = p.quad(left=[off], right=[off + 1], top=[off + 1], bottom=[off], fill_color=col, line_color=col,
                   line_alpha=0.4)
        items.append(LegendItem(label=value(name), renderers=[r]))
    lg = Legend(items=items, location=loc, glyph_width=23, glyph_height=23, spacing=10, label_standoff=12,
                label_text_font=FONT, label_text_font_size="17.6px", label_text_color="#1a1a1a", label_height=23,
                padding=0, margin=0, background_fill_color="white", background_fill_alpha=1.0,
                border_line_color=None)
    p.add_layout(lg, "center")


def legend_figure(top_margin):
    p = figure(width=184, height=501, x_range=Range1d(0, 1), y_range=Range1d(0, 1), tools="", toolbar_location=None,
               output_backend="svg", x_axis_location=None, y_axis_location=None, min_border=0,
               outline_line_color="#c8c8c8", outline_line_width=2, margin=(top_margin, 0, 0, 1709))
    p.grid.visible = False
    make_legend(p, (4, 7), -10)
    return p


def polar(kbp, r):
    th = np.asarray(kbp, dtype=float) / GENOME_KBP * 2 * np.pi
    r = np.asarray(r, dtype=float)
    return r * np.sin(th), r * np.cos(th)


def arcs(p, intervals, r_in, r_out, color, alpha):
    if not intervals:
        return
    s = np.array([i[0] for i in intervals], dtype=float) / GENOME_KBP * 2 * np.pi
    e = np.array([i[1] for i in intervals], dtype=float) / GENOME_KBP * 2 * np.pi
    p.annular_wedge(x=0, y=0, inner_radius=r_in, outer_radius=r_out, start_angle=np.pi / 2 - e, end_angle=np.pi / 2 - s,
                    fill_color=color, fill_alpha=alpha, line_color=None)


def spikes(p, vals, base, gain, color):
    pos = np.arange(len(vals)) * GENOME_KBP / len(vals)
    arcs(p, [(0, GENOME_KBP)], base - 0.5, base + 0.5, color, 1)
    x0, y0 = polar(pos, np.full(len(vals), base))
    x1, y1 = polar(pos, base + np.array(vals) * gain)
    p.segment(x0, y0, x1, y1, line_color=color, line_width=1.6)


def panel_a():
    p = figure(width=W, height=1000, x_range=Range1d(-CX, W - CX), y_range=Range1d(CY - 1000, CY), tools="",
               toolbar_location=None, output_backend="svg", x_axis_location=None, y_axis_location=None,
               min_border=0, outline_line_color=None)
    p.grid.visible = False
    p.text(x=[904 - CX], y=[CY - 12], text=[TITLE_A], text_font=value(FONT), text_font_size="23.7px",
           text_font_style="bold", text_align="center", text_baseline="middle", text_color="black")
    for i, ro in enumerate(RING_OUT):
        arcs(p, a_rings[i], ro - RING_T, ro, TRACK_COLORS[i], 0.72)
        arcs(p, a_faint[i], ro - RING_T, ro, TRACK_COLORS[i], 0.22)
    arcs(p, [(0, GENOME_KBP)], 243, 254, TRACK_COLORS[12], 0.72)
    arcs(p, [(k - 1.5, k + 1.5) for k in a_stripes], 243, 451, "white", 0.45)
    for i, ro in enumerate(RING_OUT):
        open_stripes = [k for k in a_stripes_acc if not any(a <= k <= b for a, b in a_solid[i])]
        arcs(p, [(k - 4, k + 4) for k in open_stripes], ro - RING_T - 0.3, ro + 0.3, "white", 0.7)
    arcs(p, [(0, GENOME_KBP)], 258, 266.5, "#555555", 1)
    spikes(p, a_gc, 229, 1.0, "black")
    spikes(p, a_skew, 203, 1.0, TRACK_COLORS[14])
    # gene ring
    for s, e, c in a_gene_bands:
        arcs(p, [(s, e)], 176, 188.5, c, 1)
    arcs(p, [(k - 2, k + 2) for k in a_gene_dark], 176, 188.5, "black", 0.75)
    for k, c in a_gene_streaks:
        arcs(p, [(k - 3, k + 3)], 176, 188.5, c, 1)
    # ticks
    x0, y0 = polar(a_major, 164.5)
    x1, y1 = polar(a_major, 173.7)
    p.segment(x0, y0, x1, y1, line_color="black", line_width=3)
    x0, y0 = polar(a_minor, 168)
    x1, y1 = polar(a_minor, 173)
    p.segment(x0, y0, x1, y1, line_color="black", line_width=2.5)
    x0, y0 = polar(a_major, 453)
    x1, y1 = polar(a_major, 463)
    p.segment(x0, y0, x1, y1, line_color="black", line_width=3)
    x0, y0 = polar(a_minor, 453)
    x1, y1 = polar(a_minor, 458)
    p.segment(x0, y0, x1, y1, line_color="black", line_width=2.5)
    p.text(x=[854 - CX, 873 - CX], y=[CY - 29, CY - 29], text=["↓", "↓"], text_font=value("DejaVu Sans"),
           text_font_size="10px", text_align="center", text_baseline="middle", text_color="#555555")
    # kbp labels
    th = np.array(a_label_kbp) / GENOME_KBP * 2 * np.pi
    lx = 160 * np.sin(th) - 21 * np.sin(th)
    ly = 160 * np.cos(th) - 6 * np.cos(th)
    p.text(lx, ly, text=[f"{k} kbp" for k in a_label_kbp], text_font=value(FONT), text_font_size="10.2px",
           text_align="center", text_baseline="middle", text_color="#333333")
    make_legend(p, (1444, 289.4), -5000)
    return p


def track_panel(title, title_offset, standoff, k0, tracks, faint, stripes, genes, gc, skew, major, minor, stadium):
    xr = Range1d(k0, k0 + W / PX_PER_KBP)
    frame_h = 382
    p = figure(width=W, height=520, x_range=xr, y_range=Range1d(frame_h, 0), tools="", toolbar_location=None,
               output_backend="svg", x_axis_location="below", y_axis_location=None, min_border_left=0,
               min_border_right=0, min_border_top=69, min_border_bottom=69, outline_line_color=None)
    p.title = Title(text=title, align="center", offset=title_offset, standoff=standoff, text_font=FONT,
                    text_font_size="23.7px", text_font_style="bold", text_color="black")
    p.grid.visible = False
    ax = p.xaxis[0]
    ax.ticker = FixedTicker(ticks=major, minor_ticks=minor)
    ax.formatter = PrintfTickFormatter(format="%d kbp")
    top = LinearAxis(ticker=FixedTicker(ticks=major, minor_ticks=minor))
    p.add_layout(top, "above")
    top.major_label_text_color = None
    top.major_label_standoff = 0
    for a, mj, mn in ((ax, 12, 7), (top, 12, 7)):
        a.axis_line_color = None
        a.major_tick_in = 0
        a.minor_tick_in = 0
        a.major_tick_out = mj
        a.minor_tick_out = mn
        a.major_tick_line_width = 3
        a.minor_tick_line_width = 3
        a.major_tick_line_color = "black"
        a.minor_tick_line_color = "black"
    ax.major_label_standoff = 5
    ax.major_label_text_font = FONT
    ax.major_label_text_font_size = "14px"
    ax.major_label_text_color = "#1a1a1a"

    def row_y(i):
        return 279.3 if i == 12 else 12.2 + 20.93 * i

    for i, (iv, fv) in enumerate(zip(tracks, faint)):
        y = row_y(i)
        if iv:
            p.quad(left=[a for a, _ in iv], right=[b for _, b in iv], top=y - 7.1, bottom=y + 7.1,
                   fill_color=TRACK_COLORS[i], fill_alpha=0.92, line_color=None)
        if fv:
            p.quad(left=[a for a, _ in fv], right=[b for _, b in fv], top=y - 7.1, bottom=y + 7.1,
                   fill_color=TRACK_COLORS[i], fill_alpha=0.3, line_color=None)
    stripes = np.array(stripes)
    p.quad(left=stripes - 0.17, right=stripes + 0.17, top=row_y(0) - 7.2, bottom=row_y(12) + 7.2,
           fill_color="white", fill_alpha=0.55, line_color=None)
    # grey backbone
    p.quad(left=[k0], right=[k0 + W / PX_PER_KBP], top=256.7, bottom=265.7, fill_color="#555555", line_color=None)
    # GC
    for data, base, col in ((gc, 306.7, "black"), (skew, 342, TRACK_COLORS[14])):
        xs = [d[0] for d in data]
        ys = [base - d[1] / 3 for d in data]
        p.varea(x=xs, y1=base, y2=ys, fill_color=col)
        p.add_layout(Span(location=base, dimension="width", line_color="#b0b0b0", line_width=1))
    # gene bar
    p.quad(left=[g[0] for g in genes], right=[g[1] for g in genes], top=363, bottom=377.7,
           fill_color=[GENE_COLORS[g[2]] for g in genes], line_color=None)
    # highlight
    sx0, sx1, sy0, sy1, rad = stadium
    p.quad(left=[sx0], right=[sx1], top=[sy0], bottom=[sy1], fill_color=None, line_color="black", line_width=5.5,
           border_radius=rad)
    return p, xr


def ann_panel(xr, labels, kbps, rows, height):
    p = figure(width=W, height=height, x_range=xr, y_range=Range1d(height, 0), tools="", toolbar_location=None,
               output_backend="svg", x_axis_location=None, y_axis_location=None, min_border=0,
               outline_line_color=None, background_fill_color=None, border_fill_color=None, margin=(-61, 0, 0, 0))
    p.grid.visible = False
    row_text = [44, 81, 118, 154, 191, 228]
    row_end = [29, 66, 103, 139, 176, 213]
    y1 = [row_end[r - 1] for r in rows]
    p.segment(x0=kbps, x1=kbps, y0=2, y1=y1, line_color="#ff0033", line_width=1.6)
    p.text(x=kbps, y=[row_text[r - 1] for r in rows], text=labels, text_font=value(FONT), text_font_size="24px",
           text_align="center", text_baseline="middle", text_color="#ff0033", background_fill_color="white",
           background_fill_alpha=0.8)
    return p


pa = panel_a()
pb, xb = track_panel(TITLE_B, -1, 22, 4713.4, b_tracks, b_faint, b_stripes, b_genes, b_gc, b_skew, b_major, b_minor,
                     (4980.3, 5004.2, 131, 299, 42))
ab = ann_panel(xb, b_ann_labels, b_ann_kbp, b_ann_rows, 318)
lb = legend_figure(-765)
pc, xc = track_panel(TITLE_C, -1, 27, 956.3, c_tracks, c_faint, c_stripes, c_genes, c_gc, c_skew, c_major, c_minor,
                     (1084.2, 1103.7, 115, 294, 34))
pc.margin = (264, 0, 0, 0)
ac = ann_panel(xc, c_ann_labels, c_ann_kbp, c_ann_rows, 244)
lc = legend_figure(-697)

page = column(pa, pb, ab, lb, pc, ac, lc)
open("out.html", "w").write(file_html(page, INLINE))
